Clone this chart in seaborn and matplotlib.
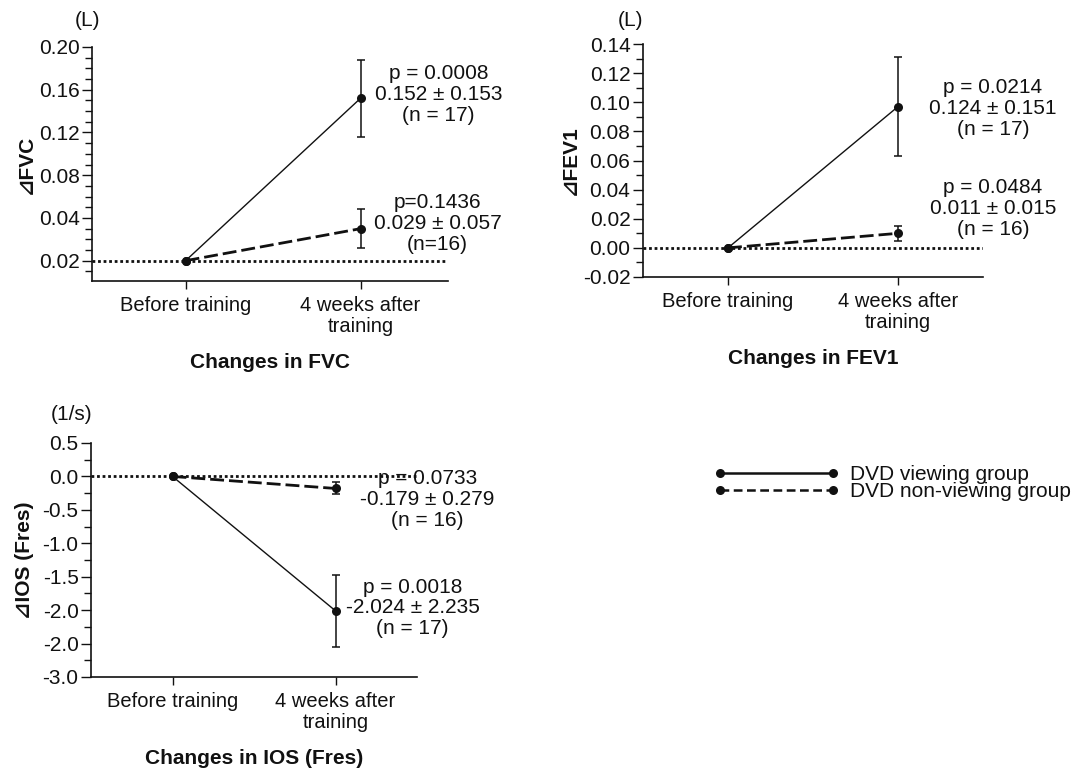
import numpy as np
import pandas as pd
import matplotlib
matplotlib.use("Agg")
import matplotlib.pyplot as plt
from matplotlib.lines import Line2D
import seaborn as sns

# ---------------- data ----------------
time_labels = ["Before training", "4 weeks after\ntraining"]
groups = ["DVD viewing group", "DVD non-viewing group"]

fvc_means = {"DVD viewing group": [0.0, 0.152], "DVD non-viewing group": [0.0, 0.030]}
fvc_errs = {"DVD viewing group": 0.036, "DVD non-viewing group": 0.018}
fvc_ticks = [0.20, 0.16, 0.12, 0.08, 0.04, 0.00]
fvc_ticklabels = ["0.20", "0.16", "0.12", "0.08", "0.04", "0.02"]
fvc_notes = ["p = 0.0008\n0.152 ± 0.153\n(n = 17)", "p=0.1436\n0.029 ± 0.057\n(n=16)"]

fev_means = {"DVD viewing group": [0.0, 0.097], "DVD non-viewing group": [0.0, 0.010]}
fev_errs = {"DVD viewing group": 0.034, "DVD non-viewing group": 0.005}
fev_ticks = [0.14, 0.12, 0.10, 0.08, 0.06, 0.04, 0.02, 0.00, -0.02]
fev_ticklabels = ["0.14", "0.12", "0.10", "0.08", "0.06", "0.04", "0.02", "0.00", "-0.02"]
fev_notes = ["p = 0.0214\n0.124 ± 0.151\n(n = 17)", "p = 0.0484\n0.011 ± 0.015\n(n = 16)"]

ios_means = {"DVD viewing group": [0.0, -2.01], "DVD non-viewing group": [0.0, -0.18]}
ios_errs = {"DVD viewing group": 0.54, "DVD non-viewing group": 0.09}
ios_ticks = [0.5, 0.0, -0.5, -1.0, -1.5, -2.0, -2.5, -3.0]
ios_ticklabels = ["0.5", "0.0", "-0.5", "-1.0", "-1.5", "-2.0", "-2.0", "-3.0"]
ios_notes = ["p = 0.0018\n-2.024 ± 2.235\n(n = 17)", "p = 0.0733\n-0.179 ± 0.279\n(n = 16)"]

# ---------------- style ----------------
sns.set_theme(style="white")
plt.rcParams["font.family"] = ["Liberation Sans", "DejaVu Sans"]
FS = 15
INK = "#111111"

fig = plt.figure(figsize=(10.77, 7.74), dpi=100)

W, H = 1077, 774
def rect(l, t, r, b):
    return [l / W, (H - b) / H, (r - l) / W, (b - t) / H]

panels = [
    dict(rect=rect(92, 47, 448, 281), means=fvc_means, errs=fvc_errs, ticks=fvc_ticks,
         ticklabels=fvc_ticklabels, ylim=(-0.019, 0.20), minor=0.01, xlim=(-0.535, 1.5),
         ylabel="⊿FVC", ylab_x=-0.157, unit="(L)", unit_xy=(-0.014, 1.115),
         title="Changes in FVC", notes=fvc_notes,
         offs=[(78, 4), (77, 5)]),
    dict(rect=rect(643, 44, 983, 277), means=fev_means, errs=fev_errs, ticks=fev_ticks,
         ticklabels=fev_ticklabels, ylim=(-0.02, 0.14), minor=0.01, xlim=(-0.5, 1.5),
         ylabel="⊿FEV1", ylab_x=-0.186, unit="(L)", unit_xy=(-0.038, 1.103),
         title="Changes in FEV1", notes=fev_notes,
         offs=[(95, -2), (95, 25)]),
    dict(rect=rect(91, 443, 417, 677), means=ios_means, errs=ios_errs, ticks=ios_ticks,
         ticklabels=ios_ticklabels, ylim=(-3.0, 0.5), minor=0.25, xlim=(-0.5, 1.5),
         ylabel="⊿IOS (Fres)", ylab_x=-0.176, unit="(1/s)", unit_xy=(-0.061, 1.12),
         title="Changes in IOS (Fres)", notes=ios_notes,
         offs=[(77, 3), (92, -11)]),
]

line_kw = {"DVD viewing group": dict(lw=1.0, dashes=None),
           "DVD non-viewing group": dict(lw=2.0, dashes=(5, 1.8))}

for p in panels:
    ax = fig.add_axes(p["rect"])
    rows = []
    for g in groups:
        for i, t in enumerate(time_labels):
            rows.append({"group": g, "x": i, "value": p["means"][g][i]})
    df = pd.DataFrame(rows)

    ax.axhline(0, color=INK, lw=2.0, dashes=(1, 1.0), zorder=1)
    for g in groups:
        sub = df[df["group"] == g]
        lw = line_kw[g]["lw"]
        sns.lineplot(data=sub, x="x", y="value", ax=ax, color=INK, lw=lw,
                     marker="o", markersize=6.5, markeredgewidth=0, zorder=3,
                     estimator=None, legend=False)
        if line_kw[g]["dashes"] is not None:
            ax.lines[-1].set_dashes(line_kw[g]["dashes"])
        ax.errorbar(1, p["means"][g][1], yerr=p["errs"][g], color=INK, lw=1.1,
                    capsize=3, capthick=1.1, fmt="none", zorder=2)

    ax.set_xlim(*p["xlim"])
    ax.set_ylim(*p["ylim"])
    ax.set_xticks(range(len(time_labels)))
    ax.set_xticklabels(time_labels, fontsize=14.5, linespacing=1.1)
    ax.set_yticks(p["ticks"])
    ax.set_yticklabels(p["ticklabels"], fontsize=FS)
    lo, hi = p["ylim"]
    m = p["minor"]
    minors = np.arange(np.ceil(lo / m) * m, hi + 1e-9, m)
    ax.set_yticks(minors, minor=True)
    ax.tick_params(axis="y", which="major", direction="out", length=7, width=1.0,
                   color=INK, labelcolor=INK, pad=2, left=True)
    ax.tick_params(axis="y", which="minor", direction="out", length=5, width=1.0,
                   color=INK, left=True)
    ax.tick_params(axis="x", which="major", direction="out", length=6, width=1.0,
                   color=INK, labelcolor=INK, pad=5, bottom=True)
    for s in ["top", "right"]:
        ax.spines[s].set_visible(False)
    for s in ["left", "bottom"]:
        ax.spines[s].set_color(INK)
        ax.spines[s].set_linewidth(1.2)
    ax.set_xlabel("")
    ax.set_ylabel(p["ylabel"], fontsize=FS, fontweight="bold", color=INK,
                  family=["Liberation Sans", "DejaVu Sans"])
    ax.yaxis.set_label_coords(p["ylab_x"], 0.5)
    ax.text(p["unit_xy"][0], p["unit_xy"][1], p["unit"], transform=ax.transAxes,
            ha="center", va="center", fontsize=FS, color=INK)
    ax.text(0.5, -0.35, p["title"], transform=ax.transAxes, ha="center", va="center",
            fontsize=FS, fontweight="bold", color=INK)
    for g, note, (dx, dy) in zip(groups, p["notes"], p["offs"]):
        ax.annotate(note, xy=(1, p["means"][g][1]), xytext=(dx * 0.72, dy * 0.72),
                    textcoords="offset points", ha="center", va="center",
                    multialignment="center", fontsize=FS, color=INK,
                    linespacing=1.12, annotation_clip=False, zorder=4)

handles = [
    Line2D([], [], color=INK, lw=1.8, marker="o", markersize=6.5, markeredgewidth=0),
    Line2D([], [], color=INK, lw=1.8, dashes=(3.5, 1.8), marker="o", markersize=6.5,
           markeredgewidth=0),
]
fig.legend(handles, groups, loc="center left", bbox_to_anchor=(714 / W, 1 - 483 / H),
           frameon=False, numpoints=2, handlelength=6.0, handletextpad=0.55,
           labelspacing=-0.1, fontsize=FS, borderpad=0, borderaxespad=0,
           labelcolor=INK)

fig.savefig("out.png", dpi=100)
